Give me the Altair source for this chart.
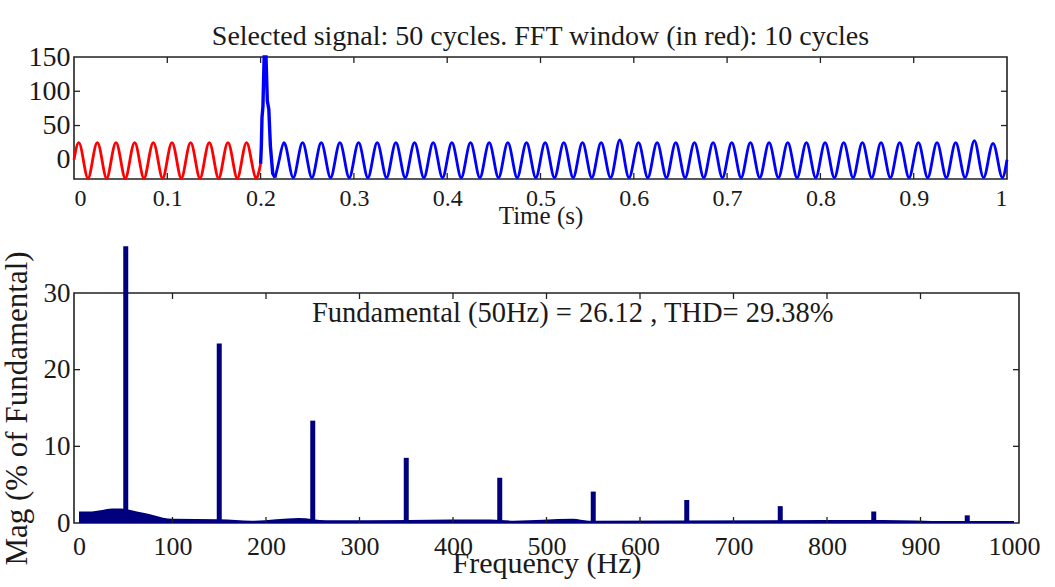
import altair as alt
import pandas as pd

# ---------------- data ----------------
# top panel: per-cycle peak / trough values of the 50 Hz waveform (cycles 0..49)
cycle_period = 0.02
red_cycles = list(range(0, 10))
red_peaks = [25, 25, 25, 25, 25, 25, 25, 25, 25, 25]
red_troughs = [-27, -27, -27, -27, -27, -27, -27, -27, -27, -27]
red_end = (0.2, -6)

# switching spike at the start of the blue part (t, value)
spike_t = [0.2, 0.2008, 0.2015, 0.2025, 0.2038, 0.2058, 0.2072, 0.2088, 0.2105, 0.213, 0.2155]
spike_v = [-6, 20, 62, 78, 150, 150, 86, 74, 20, -20, -26]

blue_cycles = list(range(11, 50))
blue_peaks = [25, 25, 25, 25, 25, 25, 25, 25, 25, 25,
              25, 25, 25, 25, 25, 25, 25, 25, 29, 25,
              25, 25, 25, 25, 25, 25, 25, 25, 25, 25,
              25, 25, 25, 25, 25, 25, 25, 28, 24]
blue_troughs = [-26, -26, -26, -26, -26, -26, -26, -26, -26, -26,
                -26, -26, -26, -26, -26, -26, -26, -26, -26, -26,
                -26, -26, -26, -26, -26, -26, -26, -26, -26, -26,
                -26, -26, -26, -26, -26, -26, -26, -26, -26]
blue_end = (1.0, 0)

time_ticks = [0, 0.1, 0.2, 0.3, 0.4, 0.5, 0.6, 0.7, 0.8, 0.9, 1]
time_inner_ticks = [0.1, 0.2, 0.3, 0.4, 0.5, 0.6, 0.7, 0.8, 0.9]
sig_ticks = [0, 50, 100, 150]
sig_inner_ticks = [50, 100]

# bottom panel: harmonic magnitudes (% of fundamental)
harm_freq = [50, 150, 250, 350, 450, 550, 650, 750, 850, 950]
harm_mag = [36.1, 23.4, 13.35, 8.5, 5.9, 4.1, 3.0, 2.2, 1.5, 1.0]

# low-level spectrum floor (breakpoints)
floor_freq = [0, 10, 25, 35, 45, 55, 62, 70, 80, 90, 100, 150, 185, 235, 265, 440, 465, 528, 545, 860, 930, 1000]
floor_mag = [1.5, 1.5, 1.7, 1.9, 1.9, 1.7, 1.5, 1.3, 1.0, 0.7, 0.55, 0.5, 0.3, 0.65, 0.35, 0.45, 0.3, 0.55, 0.3, 0.4, 0.25, 0.25]

freq_ticks = [0, 100, 200, 300, 400, 500, 600, 700, 800, 900, 1000]
freq_inner_ticks = [100, 200, 300, 400, 500, 600, 700, 800, 900]
mag_ticks = [0, 10, 20, 30]
mag_inner_ticks = [10, 20]

title_top = "Selected signal: 50 cycles. FFT window (in red): 10 cycles"
annot = "Fundamental (50Hz) = 26.12 , THD= 29.38%"

# ---------------- tables ----------------
def cycle_points(cycles, peaks, troughs):
    rows = []
    for k, p, tr in zip(cycles, peaks, troughs):
        t0 = k * cycle_period
        rows += [(t0, 0), (t0 + 0.005, p), (t0 + 0.01, 0), (t0 + 0.015, tr)]
    return rows

red_rows = cycle_points(red_cycles, red_peaks, red_troughs) + [red_end]
spike_rows = list(zip(spike_t, spike_v))
blue_rows = [spike_rows[-1]] + cycle_points(blue_cycles, blue_peaks, blue_troughs) + [blue_end]
red_df = pd.DataFrame(red_rows, columns=["t", "v"])
spike_df = pd.DataFrame(spike_rows, columns=["t", "v"])
blue_df = pd.DataFrame(blue_rows, columns=["t", "v"])

harm_df = pd.DataFrame({"f": harm_freq, "m": harm_mag})
floor_df = pd.DataFrame({"f": floor_freq, "m": floor_mag})

FONT = "Liberation Serif"
TXT = "#1a1a1a"
W1, H1 = 933, 122
W2, H2 = 945, 230
TK = 6
LW = 2.8

# ---------------- top panel ----------------
xs_t = alt.Scale(domain=[0, 1], nice=False, zero=False)
ys_t = alt.Scale(domain=[-28, 150], nice=False, zero=False)

red_line = alt.Chart(red_df).mark_line(color="#ff0000", strokeWidth=LW, interpolate="natural").encode(
    x=alt.X("t:Q", scale=xs_t,
            axis=alt.Axis(values=time_ticks, format="~g", title="Time (s)", labelFontSize=24,
                          titleFontSize=25, labelPadding=7, titlePadding=-7)),
    y=alt.Y("v:Q", scale=ys_t,
            axis=alt.Axis(values=sig_ticks, title=None, labelFontSize=28, labelPadding=4)),
)
spike_line = alt.Chart(spike_df).mark_line(color="#0000ff", strokeWidth=LW + 0.6).encode(
    x=alt.X("t:Q", scale=xs_t), y=alt.Y("v:Q", scale=ys_t)
)
blue_line = alt.Chart(blue_df).mark_line(color="#0000ff", strokeWidth=LW, interpolate="natural").encode(
    x=alt.X("t:Q", scale=xs_t), y=alt.Y("v:Q", scale=ys_t)
)

tt_df = pd.DataFrame({"t": time_inner_ticks})
st_df = pd.DataFrame({"v": sig_inner_ticks})
tick_style = dict(color="#222222", strokeWidth=1.3)
t_bot = alt.Chart(tt_df).mark_rule(**tick_style).encode(
    x=alt.X("t:Q", scale=xs_t), y=alt.value(H1), y2=alt.value(H1 - TK))
t_top = alt.Chart(tt_df).mark_rule(**tick_style).encode(
    x=alt.X("t:Q", scale=xs_t), y=alt.value(0), y2=alt.value(TK))
v_left = alt.Chart(st_df).mark_rule(**tick_style).encode(
    y=alt.Y("v:Q", scale=ys_t), x=alt.value(0), x2=alt.value(TK))
v_right = alt.Chart(st_df).mark_rule(**tick_style).encode(
    y=alt.Y("v:Q", scale=ys_t), x=alt.value(W1), x2=alt.value(W1 - TK))

top = alt.layer(red_line, spike_line, blue_line, t_bot, t_top, v_left, v_right).properties(
    width=W1, height=H1,
    title=alt.TitleParams(text=title_top, font=FONT, fontSize=28, fontWeight="normal",
                          color=TXT, offset=-8, anchor="middle"),
)

# ---------------- bottom panel ----------------
xs_b = alt.Scale(domain=[0, 1000], nice=False, zero=False)
ys_b = alt.Scale(domain=[0, 30], nice=False)

floor = alt.Chart(floor_df).mark_area(color="#00007f", interpolate="monotone").encode(
    x=alt.X("f:Q", scale=xs_b,
            axis=alt.Axis(values=freq_ticks, format="d", title="Frequency (Hz)", labelFontSize=26,
                          titleFontSize=30, labelPadding=10, titlePadding=-11)),
    y=alt.Y("m:Q", scale=ys_b,
            axis=alt.Axis(values=mag_ticks, title="Mag (% of Fundamental)", labelFontSize=27,
                          titleFontSize=31, labelPadding=4, titlePadding=10)),
)
bars = alt.Chart(harm_df).mark_bar(color="#00007f", size=5).encode(
    x=alt.X("f:Q", scale=xs_b), y=alt.Y("m:Q", scale=ys_b)
)
text = alt.Chart(pd.DataFrame({"s": [annot]})).mark_text(
    font=FONT, fontSize=28.5, color=TXT, align="left", baseline="alphabetic"
).encode(x=alt.value(238), y=alt.value(29), text="s:N")

ft_df = pd.DataFrame({"f": freq_inner_ticks})
mt_df = pd.DataFrame({"m": mag_inner_ticks})
f_bot = alt.Chart(ft_df).mark_rule(**tick_style).encode(
    x=alt.X("f:Q", scale=xs_b), y=alt.value(H2), y2=alt.value(H2 - TK))
f_top = alt.Chart(ft_df).mark_rule(**tick_style).encode(
    x=alt.X("f:Q", scale=xs_b), y=alt.value(0), y2=alt.value(TK))
m_left = alt.Chart(mt_df).mark_rule(**tick_style).encode(
    y=alt.Y("m:Q", scale=ys_b), x=alt.value(0), x2=alt.value(TK))
m_right = alt.Chart(mt_df).mark_rule(**tick_style).encode(
    y=alt.Y("m:Q", scale=ys_b), x=alt.value(W2), x2=alt.value(W2 - TK))

bottom = alt.layer(floor, bars, text, f_bot, f_top, m_left, m_right).properties(width=W2, height=H2)

chart = alt.vconcat(top, bottom, spacing=114, bounds="flush").properties(
    padding={"left": 0, "top": 22, "right": 5, "bottom": 0},
    background="white",
).configure_view(
    stroke="#222222", strokeWidth=1.6
).configure_axis(
    labelFont=FONT, titleFont=FONT, labelColor=TXT, titleColor=TXT, titleFontWeight="normal",
    ticks=False, domain=False, grid=False,
)

chart.save("out.html", embed_options={"renderer": "svg", "actions": False})
